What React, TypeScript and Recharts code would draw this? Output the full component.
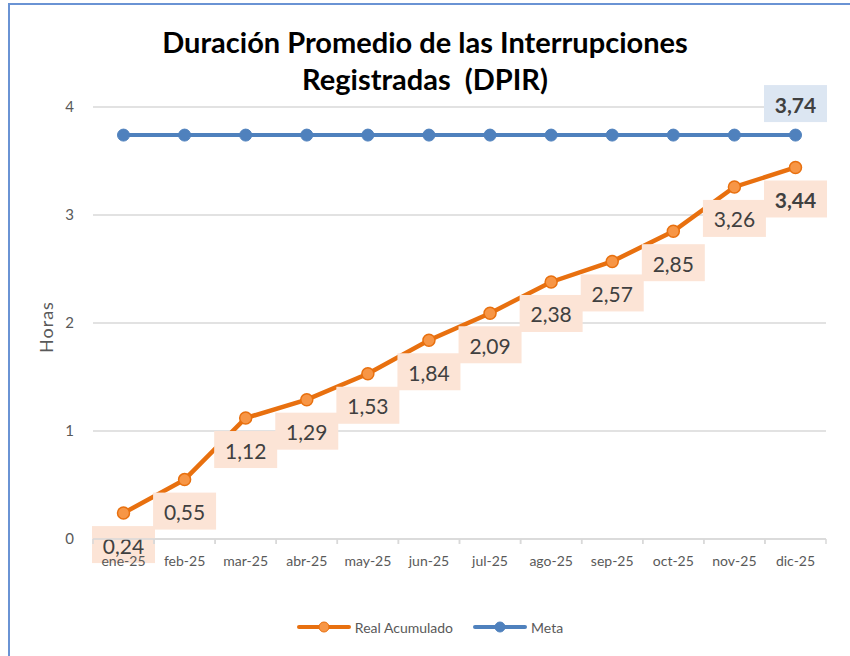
import React from 'react';
import {
  LineChart,
  Line,
  XAxis,
  YAxis,
  CartesianGrid,
  Legend,
  LabelList,
} from 'recharts';

const months = ['ene-25', 'feb-25', 'mar-25', 'abr-25', 'may-25', 'jun-25', 'jul-25', 'ago-25', 'sep-25', 'oct-25', 'nov-25', 'dic-25'];
const realAcumulado = [0.24, 0.55, 1.12, 1.29, 1.53, 1.84, 2.09, 2.38, 2.57, 2.85, 3.26, 3.44];
const meta = [3.74, 3.74, 3.74, 3.74, 3.74, 3.74, 3.74, 3.74, 3.74, 3.74, 3.74, 3.74];
const yTicks = [0, 1, 2, 3, 4];

const data = months.map((m, i) => ({ mes: m, real: realAcumulado[i], meta: meta[i] }));

const FONT = 'Lato, "Open Sans", sans-serif';
const ORANGE = '#E8700F';
const ORANGE_DOT = '#F79646';
const BLUE = '#4F81BD';
const GRID = '#D9D9D9';
const HALF_BAND = 30.5;

const fmt = (v: number) => v.toFixed(2).replace('.', ',');

const MonthTick = (props: any) => {
  const { x, y, payload } = props;
  return (
    <g>
      <line x1={x - HALF_BAND} y1={y} x2={x - HALF_BAND} y2={y + 5} stroke={GRID} strokeWidth={1.5} />
      <line x1={x + HALF_BAND} y1={y} x2={x + HALF_BAND} y2={y + 5} stroke={GRID} strokeWidth={1.5} />
      <text x={x} y={y + 21} textAnchor="middle" dominantBaseline="central" fontSize={14} fill="#595959" fontFamily={FONT}>
        {payload.value}
      </text>
    </g>
  );
};

// peach boxes under the orange points, last one bold
const RealLabel = (props: any) => {
  const { x, y, value, index } = props;
  const bold = index === realAcumulado.length - 1;
  return (
    <g>
      <rect x={x - 31.5} y={y + 13} width={63} height={37} fill="#FCE4D6" />
      <text x={x} y={y + 32} textAnchor="middle" dominantBaseline="central" fontSize={21} fontWeight={bold ? 700 : 400} fill="#404040" fontFamily={FONT}>
        {fmt(value)}
      </text>
    </g>
  );
};

// only the last Meta point carries a label
const MetaLabel = (props: any) => {
  const { x, y, value, index } = props;
  if (index !== meta.length - 1) return null;
  return (
    <g>
      <rect x={x - 31.5} y={y - 50} width={63} height={37} fill="#DCE6F2" />
      <text x={x} y={y - 31} textAnchor="middle" dominantBaseline="central" fontSize={21} fontWeight={700} fill="#404040" fontFamily={FONT}>
        {fmt(value)}
      </text>
    </g>
  );
};

const legendItems = [
  { name: 'Real Acumulado', color: ORANGE, dot: ORANGE_DOT },
  { name: 'Meta', color: BLUE, dot: BLUE },
];

const LegendContent = () => (
  <div style={{ display: 'flex', justifyContent: 'center', alignItems: 'center', height: 40, gap: 20, paddingLeft: 34, fontFamily: FONT }}>
    {legendItems.map((it) => (
      <div key={it.name} style={{ display: 'flex', alignItems: 'center', gap: 4 }}>
        <svg width={54} height={14}>
          <line x1={2} y1={7} x2={52} y2={7} stroke={it.color} strokeWidth={4} strokeLinecap="round" />
          <circle cx={27} cy={7} r={5} fill={it.dot} stroke={it.color} strokeWidth={1} />
        </svg>
        <span style={{ fontSize: 14, color: '#595959' }}>{it.name}</span>
      </div>
    ))}
  </div>
);

export default function App() {
  return (
    <div style={{ position: 'absolute', left: 0, top: 0, width: 850, height: 656, overflow: 'hidden', background: '#fff' }}>
      <div style={{ position: 'absolute', left: 8, top: 3, width: 900, height: 700, border: '2px solid #6A93D4' }} />
      <div
        style={{
          position: 'absolute',
          left: 0,
          top: 23,
          width: 850,
          textAlign: 'center',
          fontFamily: FONT,
          fontWeight: 700,
          fontSize: 29,
          lineHeight: '37px',
          color: '#000',
          zIndex: 2,
        }}
      >
        Duración Promedio de las Interrupciones
        <br />
        Registradas&nbsp; (DPIR)
      </div>
      <div style={{ position: 'absolute', left: 0, top: 0 }}>
        <LineChart width={850} height={656} data={data} margin={{ top: 107, right: 24, left: 0, bottom: 9 }}>
          <CartesianGrid vertical={false} stroke={GRID} strokeWidth={1.5} />
          <XAxis
            dataKey="mes"
            height={68}
            padding={{ left: HALF_BAND, right: HALF_BAND }}
            axisLine={{ stroke: GRID, strokeWidth: 1.5 }}
            tickLine={false}
            tickSize={0}
            tickMargin={0}
            tick={<MonthTick />}
            interval={0}
            zIndex={3000}
          />
          <YAxis
            width={93}
            domain={[0, 4]}
            ticks={yTicks}
            axisLine={false}
            tickLine={false}
            tickSize={0}
            tickMargin={19}
            tick={{ fontSize: 15, fill: '#595959', fontFamily: FONT }}
            label={{ value: 'Horas', angle: -90, position: 'center', dx: 0, dy: 4, style: { fontSize: 18, letterSpacing: 1, fill: '#595959', fontFamily: FONT } }}
          />
          <Legend verticalAlign="bottom" content={<LegendContent />} />
          <Line
            dataKey="real"
            name="Real Acumulado"
            stroke={ORANGE}
            strokeWidth={4.5}
            dot={{ r: 6, fill: ORANGE_DOT, stroke: ORANGE, strokeWidth: 1.5 }}
            isAnimationActive={false}
          >
            <LabelList dataKey="real" content={<RealLabel />} />
          </Line>
          <Line
            dataKey="meta"
            name="Meta"
            stroke={BLUE}
            strokeWidth={4}
            dot={{ r: 6, fill: BLUE, stroke: BLUE, strokeWidth: 1 }}
            isAnimationActive={false}
          >
            <LabelList dataKey="meta" content={<MetaLabel />} />
          </Line>
        </LineChart>
      </div>
    </div>
  );
}
